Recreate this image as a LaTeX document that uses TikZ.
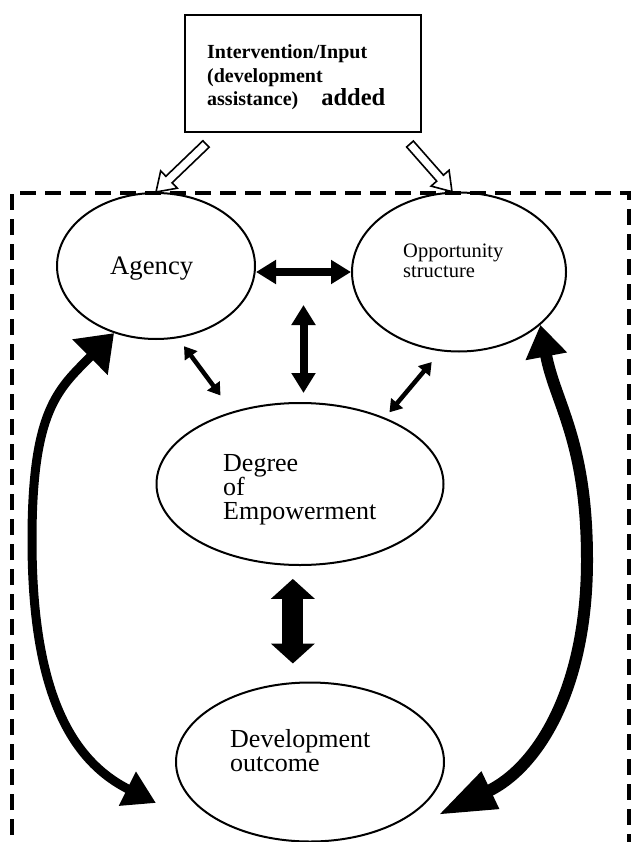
\documentclass[tikz,border=0pt]{standalone}
\usepackage{fontspec}
\setmainfont{Liberation Serif}
\usetikzlibrary{arrows.meta, calc, shapes.geometric}

% hollow arrow from #1 to #2
\newcommand{\inputarrow}[2]{%
  \coordinate (ia-h) at ($(#2)!18pt!(#1)$);
  \draw[line width=1.6pt, fill=white]
    ($(#1)!4.5pt!90:(#2)$) -- ($(ia-h)!4.5pt!90:(#2)$) -- ($(ia-h)!12pt!90:(#2)$)
    -- (#2) -- ($(ia-h)!12pt!-90:(#2)$) -- ($(ia-h)!4.5pt!-90:(#2)$)
    -- ($(#1)!4.5pt!-90:(#2)$) -- cycle;
}

\begin{document}
\begin{tikzpicture}[x=1pt, y=-1pt,
  blob/.style={draw, ellipse, line width=2pt, inner sep=0pt},
  lbl/.style={anchor=base west, align=left, inner sep=0pt},
  inbox/.style={draw, line width=2pt, minimum width=236pt, minimum height=117pt, inner sep=0pt},
  frame/.style={line width=3.5pt, dash pattern=on 16pt off 9pt},
  smallarrow/.style={line width=4.5pt, <->, >={Triangle[length=12pt, width=15pt]}},
  midarrow/.style={line width=8pt, <->, >={Triangle[length=20pt, width=23pt]}},
  bigarrow/.style={line width=21pt, <->, >={Triangle[length=20pt, width=43pt]}}]
\useasboundingbox (0,0) rectangle (631,842);

\draw[frame] (12,860) -- (12,193) -- (629,193) -- (629,860);

\node[inbox] (input) at (303,73.5) {};
\node[lbl, font=\bfseries\fontsize{20}{23.5}\selectfont] (inputtxt) at (207,106)
  {Intervention/Input\\(development\\assistance)\hspace{23pt}{\fontsize{24.5}{28}\selectfont added}};

\node[blob, minimum width=198pt, minimum height=146pt] (agency) at (156,266) {};
\node[blob, minimum width=214pt, minimum height=159pt] (opp) at (459,272) {};
\node[blob, minimum width=287pt, minimum height=162pt] (degree) at (300,484) {};
\node[blob, minimum width=268pt, minimum height=159pt] (devout) at (310,762) {};

% text (base = last line)
\node[lbl, font=\fontsize{26.7}{30}\selectfont] (agencytxt) at (110,274) {Agency};
\node[lbl, font=\fontsize{20.5}{20}\selectfont] (opptxt) at (403,277) {Opportunity\\structure};
\node[lbl, font=\fontsize{26}{24}\selectfont] (degreetxt) at (223,519) {Degree\\of\\Empowerment};
\node[lbl, font=\fontsize{26}{24}\selectfont] (devouttxt) at (230,771) {Development\\outcome};

\coordinate (ia-l) at ($(input.south west)+(22,11)$);
\coordinate (ia-r) at ($(input.south east)+(-12,11)$);
\inputarrow{ia-l}{agency.north}
\inputarrow{ia-r}{opp.95}

\draw[midarrow] (agency.east |- opp.west) -- (opp.west);
\coordinate (hmid) at ($(agency.east |- opp.west)!0.5!(opp.west)$);
\draw[midarrow, shorten <=33pt, shorten >=9pt] (hmid) -- (hmid |- degree.north);
\draw[smallarrow, shorten <=10pt, shorten >=20pt] (agency.287) -- (degree.133);
\draw[smallarrow, shorten <=14pt, shorten >=7pt] (opp.257) -- (degree.38);
\draw[bigarrow, shorten <=13pt, shorten >=18pt] (degree.265) -- (degree.265 |- devout.north);

\coordinate (ltip) at (156,803);
\coordinate (rtip) at (438,815);
\draw[line width=9pt, {Triangle[length=34pt, width=48pt]}-{Triangle[length=32pt, width=36pt]}]
  (agency.238) .. controls (58,389) and (32,410) .. (32,540)
  .. controls (32,690) and (70,760) .. (ltip);
\draw[line width=12pt, {Triangle[length=32pt, width=40pt]}-{Triangle[length=58pt, width=38pt]}]
  (opp.327) .. controls (555,403) and (587,440) .. (587,560)
  .. controls (587,690) and (537,768) .. (rtip);
\end{tikzpicture}
\end{document}
